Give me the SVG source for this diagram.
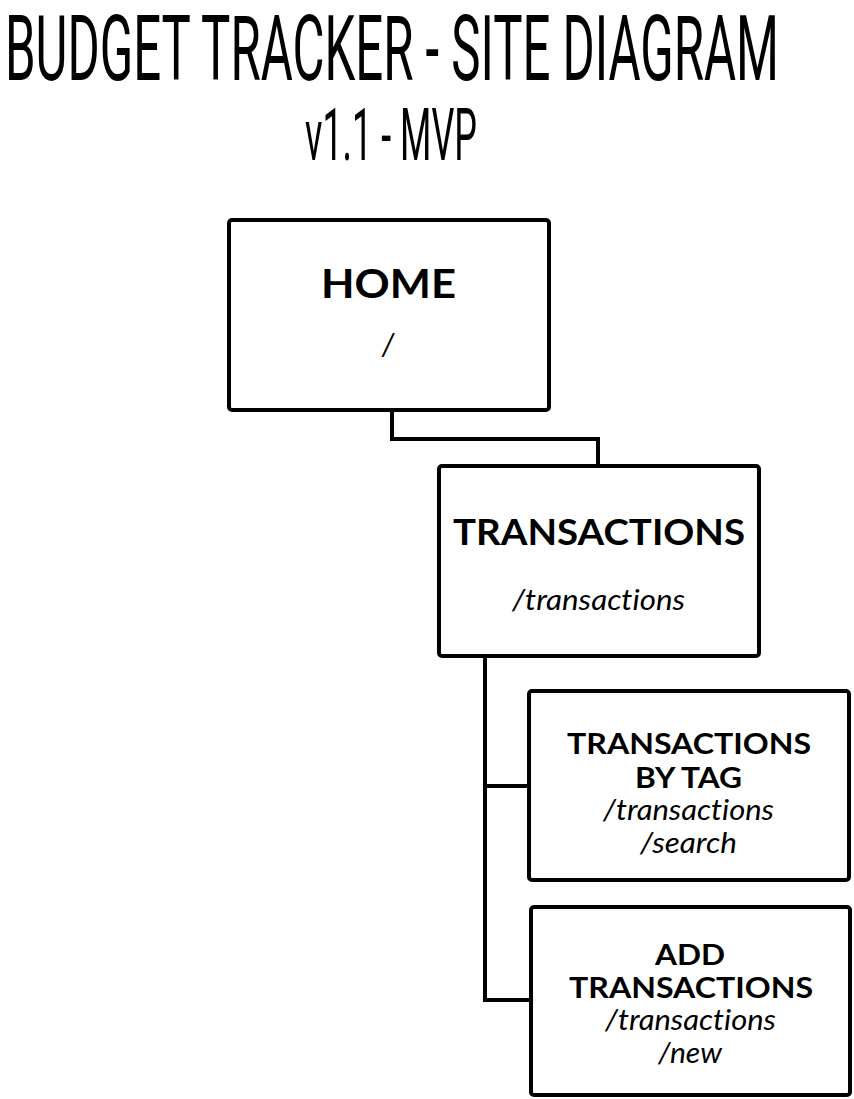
<svg xmlns="http://www.w3.org/2000/svg" width="854" height="1099" viewBox="0 0 854 1099">
<style>
  .box { fill: #ffffff; stroke: #000000; stroke-width: 4; }
  .conn { fill: none; stroke: #000000; stroke-width: 4; stroke-linejoin: miter; }
  .title { font-family: Roboto, "Liberation Sans", sans-serif; font-weight: 400; fill: #000; }
  .name { font-family: Lato, "Open Sans", sans-serif; font-weight: 700; fill: #000; text-anchor: middle; font-variant-ligatures: none; }
  .path { font-family: Lato, "Open Sans", sans-serif; font-style: italic; font-weight: 400; fill: #000; text-anchor: middle; font-variant-ligatures: none; }
</style>
<rect width="854" height="1099" fill="#ffffff"/>
<g id="title">
  <text class="title" x="5" y="80" font-size="91" textLength="774" lengthAdjust="spacingAndGlyphs">BUDGET TRACKER - SITE DIAGRAM</text>
  <text class="title" x="305" y="160" font-size="73" textLength="172" lengthAdjust="spacingAndGlyphs">v1.1 - MVP</text>
</g>
<g id="connectors">
  <path class="conn" d="M392 412 V439 H598 V466"/>
  <path class="conn" d="M485 658 V1000 H531"/>
  <path class="conn" d="M485 786 H529"/>
</g>
<g id="home">
  <rect class="box" x="229" y="220" width="320" height="190" rx="3"/>
  <text class="name" x="388.5" y="298" font-size="41" textLength="135" lengthAdjust="spacingAndGlyphs">HOME</text>
  <text class="path" x="388" y="355" font-size="30">/</text>
</g>
<g id="transactions">
  <rect class="box" x="439" y="466" width="320" height="190" rx="3"/>
  <text class="name" x="599" y="545" font-size="37" textLength="292" lengthAdjust="spacingAndGlyphs">TRANSACTIONS</text>
  <text class="path" x="598.5" y="610" font-size="29" textLength="173" lengthAdjust="spacingAndGlyphs">/transactions</text>
</g>
<g id="transactions-by-tag">
  <rect class="box" x="529" y="691" width="320" height="189" rx="3"/>
  <text class="name" x="689" y="754" font-size="28" textLength="244" lengthAdjust="spacingAndGlyphs">TRANSACTIONS</text>
  <text class="name" x="688.5" y="788" font-size="28" textLength="107" lengthAdjust="spacingAndGlyphs">BY TAG</text>
  <text class="path" x="688.5" y="820" font-size="28" textLength="171" lengthAdjust="spacingAndGlyphs">/transactions</text>
  <text class="path" x="688.5" y="853" font-size="28" textLength="97" lengthAdjust="spacingAndGlyphs">/search</text>
</g>
<g id="add-transactions">
  <rect class="box" x="531" y="907" width="319" height="188" rx="3"/>
  <text class="name" x="690" y="965" font-size="28" textLength="70" lengthAdjust="spacingAndGlyphs">ADD</text>
  <text class="name" x="691" y="998" font-size="28" textLength="244" lengthAdjust="spacingAndGlyphs">TRANSACTIONS</text>
  <text class="path" x="690.5" y="1030" font-size="28" textLength="171" lengthAdjust="spacingAndGlyphs">/transactions</text>
  <text class="path" x="690" y="1063" font-size="28" textLength="64" lengthAdjust="spacingAndGlyphs">/new</text>
</g>
</svg>
